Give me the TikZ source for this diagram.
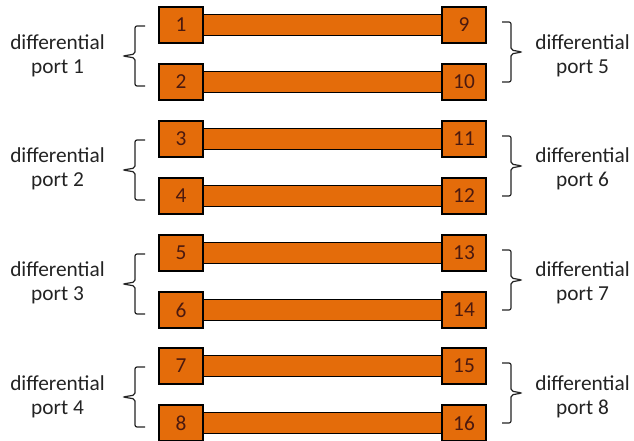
\documentclass[tikz,border=0pt]{standalone}
\usepackage{fontspec}
\setmainfont{Carlito}
\usetikzlibrary{backgrounds}
\definecolor{padorange}{RGB}{228,108,10}
\definecolor{numbrown}{RGB}{75,25,15}
\definecolor{inkgray}{RGB}{35,35,35}
\tikzset{
  pad/.style={draw=black, line width=1.1pt, fill=padorange, minimum width=33pt, minimum height=27pt, inner sep=0pt, text=numbrown, font=\fontsize{16}{18}\selectfont},
  trace/.style={draw=black, line width=1.1pt, double=padorange, double distance=14.3pt},
  bracket/.style={draw=inkgray, line width=0.9pt, rounded corners=1.5pt},
  portlabel/.style={align=center, text=inkgray, inner sep=0pt, font=\fontsize{16}{18}\selectfont}
}
\begin{document}
\begin{tikzpicture}[x=0.75pt,y=0.75pt,yscale=-1,xscale=1]
\useasboundingbox (0,0) rectangle (634,441);
% pads, left and right
\node [pad] (p1) at (181,25) {1};
\node [pad] (p2) at (181,82) {2};
\node [pad] (p3) at (181,139) {3};
\node [pad] (p4) at (181,196) {4};
\node [pad] (p5) at (181,253) {5};
\node [pad] (p6) at (181,310) {6};
\node [pad] (p7) at (181,366) {7};
\node [pad] (p8) at (181,423) {8};
\node [pad] (p9) at (464,25) {9};
\node [pad] (p10) at (464,82) {10};
\node [pad] (p11) at (464,139) {11};
\node [pad] (p12) at (464,196) {12};
\node [pad] (p13) at (464,253) {13};
\node [pad] (p14) at (464,310) {14};
\node [pad] (p15) at (464,366) {15};
\node [pad] (p16) at (464,423) {16};
% traces
\begin{scope}[on background layer]
\draw [trace] (p1) -- (p9);
\draw [trace] (p2) -- (p10);
\draw [trace] (p3) -- (p11);
\draw [trace] (p4) -- (p12);
\draw [trace] (p5) -- (p13);
\draw [trace] (p6) -- (p14);
\draw [trace] (p7) -- (p15);
\draw [trace] (p8) -- (p16);
\end{scope}
% left brackets
\draw [bracket] (145,26) -- (135,26) -- (135,54) -- (123,56) -- (135,58) -- (135,86) -- (145,86);
\draw [bracket] (145,140) -- (135,140) -- (135,168) -- (123,170) -- (135,172) -- (135,200) -- (145,200);
\draw [bracket] (145,254) -- (135,254) -- (135,282) -- (123,284) -- (135,286) -- (135,314) -- (145,314);
\draw [bracket] (145,367) -- (135,367) -- (135,395) -- (123,397) -- (135,399) -- (135,427) -- (145,427);
% right brackets
\draw [bracket] (502,22) -- (511,22) -- (511,50) -- (522,52) -- (511,54) -- (511,82) -- (502,82);
\draw [bracket] (502,136) -- (511,136) -- (511,164) -- (522,166) -- (511,168) -- (511,196) -- (502,196);
\draw [bracket] (502,250) -- (511,250) -- (511,278) -- (522,280) -- (511,282) -- (511,310) -- (502,310);
\draw [bracket] (502,363) -- (511,363) -- (511,391) -- (522,393) -- (511,395) -- (511,423) -- (502,423);
% port labels
\node [portlabel] (lp1) at (57.5,55.5) {differential\\port 1};
\node [portlabel] (lp2) at (57.5,169.3) {differential\\port 2};
\node [portlabel] (lp3) at (57.5,283.1) {differential\\port 3};
\node [portlabel] (lp4) at (57.5,396.9) {differential\\port 4};
\node [portlabel] (lp5) at (582.5,55.5) {differential\\port 5};
\node [portlabel] (lp6) at (582.5,169.3) {differential\\port 6};
\node [portlabel] (lp7) at (582.5,283.1) {differential\\port 7};
\node [portlabel] (lp8) at (582.5,396.9) {differential\\port 8};
\end{tikzpicture}
\end{document}
